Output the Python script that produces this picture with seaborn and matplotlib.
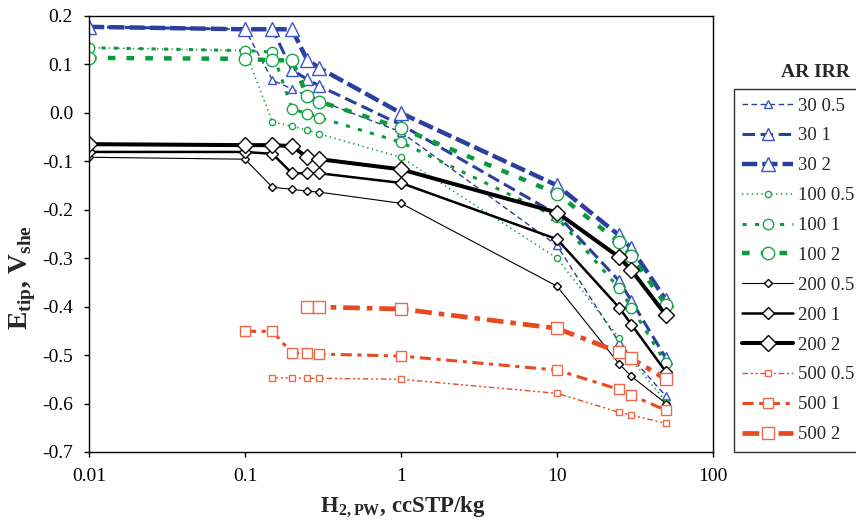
import numpy as np
import pandas as pd
import matplotlib
matplotlib.use('Agg')
import matplotlib.pyplot as plt
from matplotlib.ticker import FixedLocator, FixedFormatter, FormatStrFormatter, NullLocator
import seaborn as sns

# --- Data ---
h2_pw = [0.01, 0.1, 0.15, 0.2, 0.25, 0.3, 1, 10, 25, 30, 50]
nan = np.nan

ar30_irr05 = [0.177, 0.172, 0.067, 0.049, 0.035, 0.025, -0.040, -0.274, -0.474, -0.505, -0.585]
ar30_irr1 = [0.177, 0.172, 0.172, 0.088, 0.069, 0.055, -0.025, -0.210, -0.347, -0.388, -0.507]
ar30_irr2 = [0.177, 0.172, 0.172, 0.172, 0.109, 0.092, -0.001, -0.150, -0.253, -0.280, -0.387]
ar100_irr05 = [0.134, 0.128, -0.019, -0.028, -0.036, -0.044, -0.092, -0.300, -0.465, -0.510, -0.597]
ar100_irr1 = [0.134, 0.128, 0.125, 0.008, -0.002, -0.010, -0.061, -0.216, -0.362, -0.402, -0.517]
ar100_irr2 = [0.113, 0.111, 0.108, 0.108, 0.035, 0.023, -0.032, -0.167, -0.267, -0.295, -0.397]
ar200_irr05 = [-0.092, -0.096, -0.154, -0.158, -0.162, -0.164, -0.187, -0.358, -0.518, -0.544, -0.600]
ar200_irr1 = [-0.081, -0.081, -0.085, -0.125, -0.125, -0.125, -0.145, -0.261, -0.402, -0.437, -0.535]
ar200_irr2 = [-0.065, -0.067, -0.067, -0.069, -0.092, -0.096, -0.117, -0.206, -0.298, -0.325, -0.418]
ar500_irr05 = [nan, nan, -0.547, -0.547, -0.548, -0.548, -0.550, -0.579, -0.618, -0.624, -0.641]
ar500_irr1 = [nan, -0.451, -0.451, -0.496, -0.496, -0.498, -0.502, -0.531, -0.571, -0.583, -0.614]
ar500_irr2 = [nan, nan, nan, nan, -0.401, -0.401, -0.405, -0.445, -0.494, -0.507, -0.550]

series_labels = ['30 0.5', '30 1', '30 2', '100 0.5', '100 1', '100 2',
                 '200 0.5', '200 1', '200 2', '500 0.5', '500 1', '500 2']
series_values = [ar30_irr05, ar30_irr1, ar30_irr2, ar100_irr05, ar100_irr1, ar100_irr2,
                 ar200_irr05, ar200_irr1, ar200_irr2, ar500_irr05, ar500_irr1, ar500_irr2]

x_ticks = [0.01, 0.1, 1, 10, 100]
x_tick_labels = ['0.01', '0.1', '1', '10', '100']
y_ticks = [0.2, 0.1, 0.0, -0.1, -0.2, -0.3, -0.4, -0.5, -0.6, -0.7]

# long-form table, missing points dropped
rows = []
for lab, vals in zip(series_labels, series_values):
    for x, y in zip(h2_pw, vals):
        if not np.isnan(y):
            rows.append({'H2': x, 'E': y, 'series': lab})
df = pd.DataFrame(rows)

# --- Styles ---
BLUE, BLUE_M = '#2B3F9E', '#3A55C4'
GREEN, GREEN_M = '#0B9A3C', '#1AA84A'
BLACK = '#000000'
RED, RED_M = '#E84A1E', '#F06848'

styles = {
    '30 0.5': dict(color=BLUE, mec=BLUE_M, lw=1.0, ls=(0, (4, 2.5)), marker='^', ms=5.5),
    '30 1': dict(color=BLUE, mec=BLUE_M, lw=2.2, ls=(0, (9, 4)), marker='^', ms=8),
    '30 2': dict(color=BLUE, mec=BLUE_M, lw=3.2, ls=(0, (11, 3.6)), marker='^', ms=10.5),
    '100 0.5': dict(color=GREEN, mec=GREEN_M, lw=1.1, ls=(0, (1, 2.5)), marker='o', ms=4.5),
    '100 1': dict(color=GREEN, mec=GREEN_M, lw=2.2, ls=(0, (3, 6)), marker='o', ms=7.5),
    '100 2': dict(color=GREEN, mec=GREEN_M, lw=3.2, ls=(0, (5.5, 8)), marker='o', ms=9),
    '200 0.5': dict(color=BLACK, mec=BLACK, lw=0.8, ls='-', marker='D', ms=3.8),
    '200 1': dict(color=BLACK, mec=BLACK, lw=1.8, ls='-', marker='D', ms=6.5),
    '200 2': dict(color=BLACK, mec=BLACK, lw=2.9, ls='-', marker='D', ms=8),
    '500 0.5': dict(color=RED, mec=RED_M, lw=1.0, ls=(0, (4, 2, 1.5, 2, 1.5, 2)), marker='s', ms=4.5),
    '500 1': dict(color=RED, mec=RED_M, lw=2.2, ls=(0, (8, 4, 3, 4)), marker='s', ms=7.5),
    '500 2': dict(color=RED, mec=RED_M, lw=3.4, ls=(0, (12, 5, 4, 5)), marker='s', ms=9),
}

sns.set_theme(style='ticks')
plt.rcParams['font.family'] = ['Liberation Serif', 'DejaVu Serif']
plt.rcParams['mathtext.fontset'] = 'custom'
plt.rcParams['mathtext.rm'] = 'Liberation Serif'
plt.rcParams['mathtext.bf'] = 'Liberation Serif:bold'
plt.rcParams['axes.unicode_minus'] = False
plt.rcParams['lines.scale_dashes'] = False

fig = plt.figure(figsize=(8.56, 5.28), dpi=100)
ax = fig.add_axes([89 / 856, 1 - 452 / 528, 624 / 856, 436.3 / 528])

for lab in series_labels:
    st = styles[lab]
    sns.lineplot(data=df[df['series'] == lab], x='H2', y='E', ax=ax,
                 estimator=None, sort=False, label=lab,
                 color=st['color'], linewidth=st['lw'], linestyle=st['ls'],
                 marker=st['marker'], markersize=st['ms'],
                 markerfacecolor='white', markeredgecolor=st['mec'],
                 markeredgewidth=1.0)

ax.set_xscale('log')
ax.set_xlim(0.01, 100)
ax.set_ylim(-0.7, 0.2)
ax.xaxis.set_major_locator(FixedLocator(x_ticks))
ax.xaxis.set_major_formatter(FixedFormatter(x_tick_labels))
ax.xaxis.set_minor_locator(NullLocator())
ax.yaxis.set_major_locator(FixedLocator(y_ticks))
ax.yaxis.set_major_formatter(FormatStrFormatter('%.1f'))
ax.tick_params(axis='both', direction='out', length=3.5, width=1, colors='black',
               labelsize=14, pad=8)
for sp in ax.spines.values():
    sp.set_color('black')
    sp.set_linewidth(1.0)

ax.set_xlabel(r'$\mathbf{H}_{\mathbf{2,PW}}$, ccSTP/kg', fontsize=16.5, fontweight='bold')
ax.set_ylabel(r'$\mathbf{E}_{\mathbf{tip}}$, $\mathbf{V}_{\mathbf{she}}$', fontsize=20, fontweight='bold')
ax.xaxis.set_label_coords(0.503, -0.098)
ax.yaxis.set_label_coords(-0.082, 0.40)

handles, labels = ax.get_legend_handles_labels()
if ax.get_legend() is not None:
    ax.get_legend().remove()
leg = fig.legend(handles, labels, loc='upper left',
                 bbox_to_anchor=(734 / 856, 1 - 89 / 528), bbox_transform=fig.transFigure,
                 frameon=True, fancybox=False, shadow=False, fontsize=13.5,
                 handlelength=2.7, labelspacing=0.68, borderpad=0.45,
                 handletextpad=0.25, borderaxespad=0)
leg.get_frame().set_edgecolor('black')
leg.get_frame().set_linewidth(1.0)
fig.text(815 / 856, 1 - 73 / 528, 'AR IRR', ha='center', va='center',
         fontsize=14, fontweight='bold')

fig.savefig('out.png', dpi=100)
